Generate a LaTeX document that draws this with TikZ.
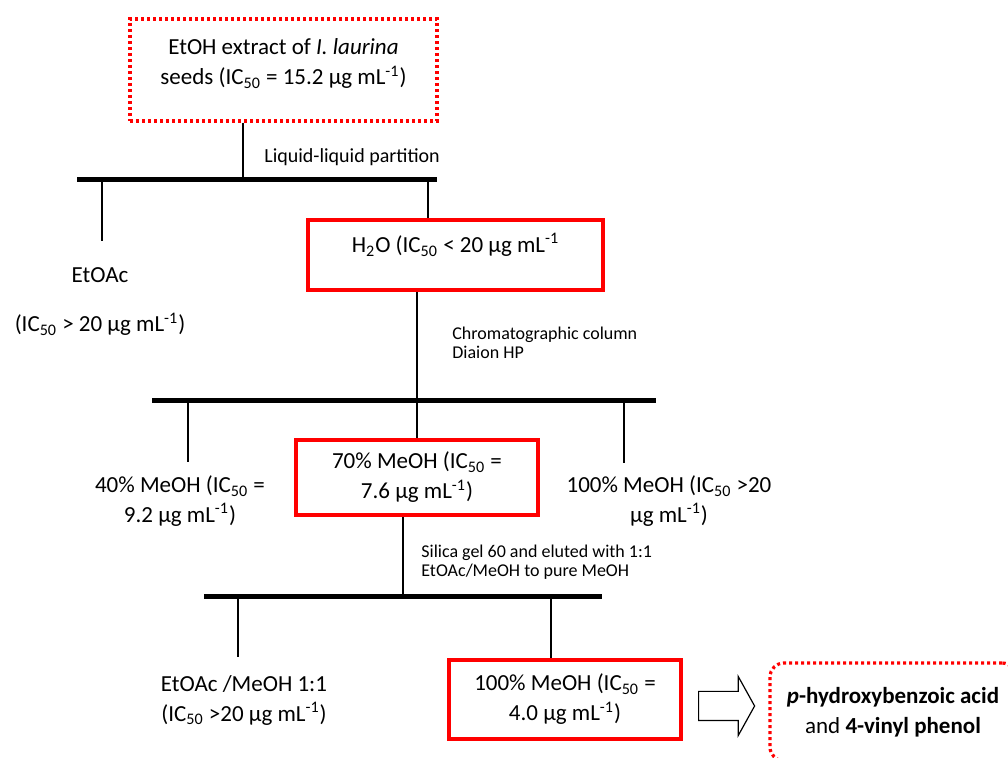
\documentclass[tikz,border=0pt]{standalone}
\usepackage{fontspec}
\setmainfont{Carlito}
\usepackage{tikz}
\usetikzlibrary{shapes,shapes.arrows,arrows.meta,calc,positioning}

\tikzset{
  redbox/.style={draw=red, line width=2pt, align=center, inner sep=0pt},
  dotbox/.style={draw=red, line width=1.6pt, dash pattern=on 1.5pt off 1.5pt, align=center, inner sep=0pt},
  bar/.style={line width=2.5pt},
  drop/.style={line width=0.7pt},
  frac/.style={align=center, inner sep=0pt},
  note/.style={font=\fontsize{9}{9.5}\selectfont, anchor=west, align=left, inner sep=0pt},
  blockarrow/.style={single arrow, draw, line width=0.6pt, inner xsep=0pt, inner ysep=7pt, minimum height=28pt,
    minimum width=0pt, single arrow head extend=7.5pt, single arrow tip angle=122},
}

\begin{document}
\begin{tikzpicture}[x=0.5pt, y=-0.5pt, font=\fontsize{11.5}{15}\selectfont]
\useasboundingbox (0,0) rectangle (1008,758);

% crude extract
\node[dotbox, minimum width=153.5pt, minimum height=51pt] (extract) at (283.5,70)
  {EtOH extract of \textit{I. laurina}\\seeds (IC\textsubscript{50} = 15.2 µg mL\textsuperscript{-1})\\[-7pt]\mbox{}};

% liquid-liquid partition
\coordinate (b1l) at (77,180);
\coordinate (b1r) at (437,180);
\coordinate (b1in) at (243,180);
\coordinate (b1a) at (102,180);
\coordinate (b1b) at (428,180);
\coordinate (d1a) at (102,241);
\draw[bar] (b1l) -- (b1r);
\draw[drop] (extract.south -| b1in) -- (b1in);
\node[note, font=\fontsize{10}{12}\selectfont] (part) at (264,157) {Liquid-liquid partition};

\node[frac] (etoac) at (100,302) {EtOAc\\[9.5pt](IC\textsubscript{50} > 20 µg mL\textsuperscript{-1})};
\node[redbox, minimum width=147.5pt, minimum height=35pt] (water) at (455.5,255)
  {H\textsubscript{2}O (IC\textsubscript{50} < 20 µg mL\textsuperscript{-1}\\[-3pt]\mbox{}};
\draw[drop] (b1a) -- (d1a);
\draw[drop] (b1b) -- (b1b |- water.north);

% Diaion HP column
\coordinate (b2l) at (152,401);
\coordinate (b2r) at (656,401);
\coordinate (b2in) at (417,401);
\coordinate (b2a) at (188,401);
\coordinate (b2c) at (624,401);
\coordinate (d2a) at (188,462);
\coordinate (d2c) at (624,463);
\draw[bar] (b2l) -- (b2r);
\draw[drop] (water.south -| b2in) -- (b2in);
\node[note] (diaion) at (452,343) {Chromatographic column\\Diaion HP};

\node[frac] (m40) at (180,501) {40\% MeOH (IC\textsubscript{50} =\\9.2 µg mL\textsuperscript{-1})};
\node[redbox, minimum width=121pt, minimum height=37.5pt] (m70) at (417,477.5)
  {70\% MeOH (IC\textsubscript{50} =\\7.6 µg mL\textsuperscript{-1})};
\node[frac] (m100a) at (669,501) {100\% MeOH (IC\textsubscript{50} >20\\µg mL\textsuperscript{-1})};
\draw[drop] (b2a) -- (d2a);
\draw[drop] (b2in) -- (m70.north);
\draw[drop] (b2c) -- (d2c);

% silica gel column
\coordinate (b3l) at (204,597);
\coordinate (b3r) at (602,597);
\coordinate (b3in) at (403,597);
\coordinate (b3a) at (238,597);
\coordinate (b3b) at (551,597);
\coordinate (d3a) at (238,657);
\draw[bar] (b3l) -- (b3r);
\draw[drop] (m70.south -| b3in) -- (b3in);
\node[note] (silica) at (421,562) {Silica gel 60 and eluted with 1:1\\EtOAc/MeOH to pure MeOH};

\node[frac] (mix) at (244,700) {EtOAc /MeOH 1:1\\(IC\textsubscript{50} >20 µg mL\textsuperscript{-1})};
\node[redbox, minimum width=116pt, minimum height=39.5pt] (m100b) at (565,699.5)
  {100\% MeOH (IC\textsubscript{50} =\\4.0 µg mL\textsuperscript{-1})};
\draw[drop] (b3a) -- (d3a);
\draw[drop] (b3b) -- (b3b |- m100b.north);

% isolated compounds
\node[blockarrow, anchor=tail] (arrow) at (698,706) {};
\node[dotbox, rounded corners=7pt, minimum width=123pt, minimum height=49pt] (cmpd) at (893,712)
  {\textbf{\textit{p}-hydroxybenzoic acid}\\and \textbf{4-vinyl phenol}};
\end{tikzpicture}
\end{document}
